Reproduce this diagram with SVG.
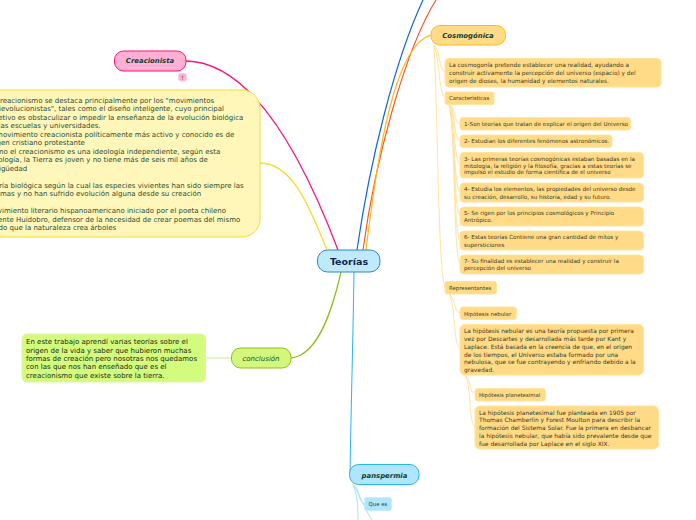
<svg xmlns="http://www.w3.org/2000/svg" width="696" height="520" viewBox="0 0 696 520">
<style>
text{font-family:"DejaVu Sans",Verdana,sans-serif;fill:#3d3a20}
.o{fill:#ffdb87;stroke:#ffe49f;stroke-width:1}
.ot{font-size:5.8px}
.ci{font-size:5.6px}
.lab{font-size:5.4px}
.ht{font-size:5.95px}
.c{fill:none;stroke-linecap:round}
.lo{stroke:#ffe3a0;stroke-width:1}
.lb{stroke:#a8e2fb;stroke-width:1}
.main{font-size:6.9px;font-weight:bold;font-style:italic;fill:#0f3d33;text-anchor:middle}
.y{font-size:7px;fill:#2f4a2e}
.g{font-size:7px;fill:#1e2a10}
</style>
<g id="connectors">
<path class="c" d="M186 61C250 62 300 150 338 250" stroke="#ff0f7b" stroke-width="1.3"/>
<path class="c" d="M260 163C295 163 312 215 327 250" stroke="#f2de2e" stroke-width="1.3"/>
<path class="c" d="M291 358C315 356 330 320 341 272" stroke="#8fbc16" stroke-width="1.2"/>
<path class="c" d="M205 358H231" stroke="#cdea95" stroke-width="1"/>
<path class="c" d="M354 272C353 340 351 410 350 474" stroke="#29b4f0" stroke-width="1"/>
<path class="c" d="M357 250C370 160 395 60 423 0" stroke="#1565d8" stroke-width="1.2"/>
<path class="c" d="M363 250C375 160 405 50 436 0" stroke="#f4511e" stroke-width="1.1"/>
<path class="c" d="M366 250C378 150 395 45 431 35" stroke="#ffb81c" stroke-width="1.2"/>
<path class="c lo" d="M434 45C441 50 438 70 445 72"/>
<path class="c lo" d="M434 45C440 60 438 90 445 98"/>
<path class="c lo" d="M434 45C438 120 438 270 445 288"/>
<path class="c lo" d="M449 104C456 108 453 122 460 124"/>
<path class="c lo" d="M449 104C456 112 453 138 460 141"/>
<path class="c lo" d="M449 104C456 115 453 160 460 165"/>
<path class="c lo" d="M449 104C456 120 453 188 460 192"/>
<path class="c lo" d="M449 104C456 125 453 212 460 216"/>
<path class="c lo" d="M449 104C456 130 453 236 460 240"/>
<path class="c lo" d="M449 104C456 135 453 258 460 264"/>
<path class="c lo" d="M449 294C456 298 453 311 460 313"/>
<path class="c lo" d="M449 294C456 305 453 345 460 349"/>
<path class="c lo" d="M465 375C472 379 468 392 475 394"/>
<path class="c lo" d="M465 375C472 385 468 423 475 427"/>
<path class="c lb" d="M353 485C361 488 357 502 364 504"/>
<path class="c lb" d="M353 485C358 495 358 510 358 520"/>
<path class="c lb" d="M353 485C358 490 365 510 372 520"/>
</g>
<g id="creacionista">
<rect x="114.500" y="51" width="71.500" height="20" rx="9" fill="#ffb0d4" stroke="#ff0f7b"/>
<text class="main" x="150" y="63">Creacionista</text>
</g>
<g id="creacionista-note">
<rect x="178.500" y="73.500" width="8" height="7.500" rx="2" fill="#ffb0d4" stroke="#ffc6e0" stroke-width=".7"/>
<text x="182.500" y="79.500" font-size="6" text-anchor="middle">!</text>
</g>
<g id="creacionismo-texto">
<rect x="-30" y="90" width="290" height="147" rx="18" fill="#fff7ba" stroke="#f2de2e"/>
<text class="y" x="-12.500" y="102.500">El creacionismo se destaca principalmente por los "movimientos</text>
<text class="y" x="-12.500" y="111">antievolucionistas", tales como el diseño inteligente, cuyo principal</text>
<text class="y" x="-12.500" y="119.500">objetivo es obstaculizar o impedir la enseñanza de la evolución biológica</text>
<text class="y" x="-12.500" y="128">en las escuelas y universidades.</text>
<text class="y" x="-12.500" y="136.500">El movimiento creacionista políticamente más activo y conocido es de</text>
<text class="y" x="-12.500" y="145">origen cristiano protestante</text>
<text class="y" x="-12.500" y="153.500">Como el creacionismo es una ideología independiente, según esta</text>
<text class="y" x="-12.500" y="162">ideología, la Tierra es joven y no tiene más de seis mil años de</text>
<text class="y" x="-12.500" y="170.500">antigüedad</text>
<text class="y" x="-12.500" y="187.500">Teoría biológica según la cual las especies vivientes han sido siempre las</text>
<text class="y" x="-12.500" y="196">mismas y no han sufrido evolución alguna desde su creación</text>
<text class="y" x="-12.500" y="213">Movimiento literario hispanoamericano iniciado por el poeta chileno</text>
<text class="y" x="-12.500" y="221.500">Vicente Huidobro, defensor de la necesidad de crear poemas del mismo</text>
<text class="y" x="-12.500" y="230">modo que la naturaleza crea árboles</text>
</g>
<g id="teorias">
<rect x="317.500" y="250" width="62.500" height="22" rx="10" fill="#bfeafd" stroke="#2f86c5"/>
<text x="349" y="264.500" font-size="9.500" font-weight="bold" text-anchor="middle" style="fill:#10264f">Teorías</text>
</g>
<g id="conclusion">
<rect x="231.500" y="348" width="59.500" height="20" rx="9" fill="#d3f77c" stroke="#8fbc16"/>
<text x="261" y="361" font-size="7" font-style="italic" text-anchor="middle" style="fill:#25502f">conclusión</text>
</g>
<g id="conclusion-texto">
<rect x="22" y="334" width="183.500" height="48" rx="5" fill="#d3fb7e" stroke="#dff3a8"/>
<text class="g" x="26" y="344.200">En este trabajo aprendí varias teorías sobre el</text>
<text class="g" x="26" y="352.500">origen de la vida y saber que hubieron muchas</text>
<text class="g" x="26" y="361">formas de creación pero nosotras nos quedamos</text>
<text class="g" x="26" y="369.300">con las que nos han enseñado que es el</text>
<text class="g" x="26" y="378">creacionismo que existe sobre la tierra.</text>
</g>
<g id="cosmogonica">
<rect x="431" y="25.500" width="74.500" height="19.500" rx="9" fill="#ffdb87" stroke="#ffb81c"/>
<text class="main" x="468" y="38">Cosmogónica</text>
</g>
<g id="cosmo-intro">
<rect class="o" x="445" y="58.500" width="216" height="28.500" rx="4"/>
<text class="ot" x="449" y="67">La cosmogonía pretende establecer una realidad, ayudando a</text>
<text class="ot" x="449" y="75">construir activamente la percepción del universo (espacio) y del</text>
<text class="ot" x="449" y="82.500">origen de dioses, la humanidad y elementos naturales.</text>
</g>
<g id="caracteristicas">
<rect class="o" x="445" y="92" width="49" height="12.500" rx="2"/>
<text class="lab" x="449" y="100.200">Características</text>
</g>
<g id="c1">
<rect class="o" x="460" y="117.500" width="170.500" height="12.500" rx="3"/>
<text class="ci" x="464" y="126">1-Son teorías que tratan de explicar el origen del Universo</text>
</g>
<g id="c2">
<rect class="o" x="460" y="135" width="152" height="12.500" rx="3"/>
<text class="ci" x="464" y="143.300">2- Estudian los diferentes fenómenos astronómicos.</text>
</g>
<g id="c3">
<rect class="o" x="460" y="152.500" width="183.500" height="25.500" rx="4"/>
<text class="ci" x="464" y="161">3- Las primeras teorías cosmogónicas estaban basadas en la</text>
<text class="ci" x="464" y="167.500">mitología, la religión y la filosofía,  gracias a estas teorías se</text>
<text class="ci" x="464" y="174">impulsó el estudio de forma científica de el universo</text>
</g>
<g id="c4">
<rect class="o" x="460" y="183" width="183.500" height="19" rx="4"/>
<text class="ci" x="464" y="191">4- Estudia los elementos, las propiedades del universo desde</text>
<text class="ci" x="464" y="198.500">su creación, desarrollo, su historia, edad y su futuro.</text>
</g>
<g id="c5">
<rect class="o" x="460" y="207" width="183.500" height="19" rx="4"/>
<text class="ci" x="464" y="215">5- Se rigen por los principios cosmológicos y  Principio</text>
<text class="ci" x="464" y="222">Antrópico.</text>
</g>
<g id="c6">
<rect class="o" x="460" y="231" width="183.500" height="19" rx="4"/>
<text class="ci" x="464" y="239">6- Estas teorías Contiene una gran cantidad de mitos y</text>
<text class="ci" x="464" y="246.500">supersticiones</text>
</g>
<g id="c7">
<rect class="o" x="460" y="255" width="183.500" height="19" rx="4"/>
<text class="ci" x="464" y="263">7-  Su finalidad es establecer una realidad y construir la</text>
<text class="ci" x="464" y="270">percepción del universo</text>
</g>
<g id="representantes">
<rect class="o" x="445" y="281.500" width="51.500" height="12.500" rx="2"/>
<text class="lab" x="449" y="290">Representantes</text>
</g>
<g id="hip-nebular">
<rect class="o" x="460" y="307" width="56.500" height="12.500" rx="3"/>
<text class="lab" x="464" y="315.500">Hipótesis nebular</text>
</g>
<g id="hip-nebular-texto">
<rect class="o" x="460" y="324.500" width="183.500" height="50.500" rx="5"/>
<text class="ht" x="464" y="332.500">La hipótesis nebular es una teoría propuesta por primera</text>
<text class="ht" x="464" y="341">vez por Descartes y desarrollada más tarde por Kant y</text>
<text class="ht" x="464" y="348.500">Laplace. Está basada en la creencia de que, en el origen</text>
<text class="ht" x="464" y="356.500">de los tiempos, el Universo estaba formado por una</text>
<text class="ht" x="464" y="363.500">nebulosa, que se fue contrayendo y enfriando debido a la</text>
<text class="ht" x="464" y="371.500">gravedad.</text>
</g>
<g id="hip-planetesimal">
<rect class="o" x="475" y="388.500" width="70.500" height="12.500" rx="3"/>
<text class="lab" x="479" y="397">Hipótesis planetesimal</text>
</g>
<g id="hip-planetesimal-texto">
<rect class="o" x="475" y="406" width="183.500" height="43" rx="5"/>
<text class="ht" x="479" y="414.500">La hipótesis planetesimal fue planteada en 1905 por</text>
<text class="ht" x="479" y="422">Thomas Chamberlin y Forest Moulton para describir la</text>
<text class="ht" x="479" y="430">formación del Sistema Solar. Fue la primera en desbancar</text>
<text class="ht" x="479" y="437.500">la hipótesis nebular, que había sido prevalente desde que</text>
<text class="ht" x="479" y="445.500">fue desarrollada por Laplace en el siglo XIX.</text>
</g>
<g id="panspermia">
<rect x="349.500" y="464.500" width="69.500" height="20" rx="9" fill="#b0e6fd" stroke="#29b4f0"/>
<text class="main" x="384.500" y="477.500">panspermia</text>
</g>
<g id="que-es">
<rect x="364.500" y="497.500" width="27" height="13" rx="2" fill="#b0e6fd" stroke="#c8eefc"/>
<text class="lab" x="368.500" y="506">Que es</text>
</g>
</svg>
